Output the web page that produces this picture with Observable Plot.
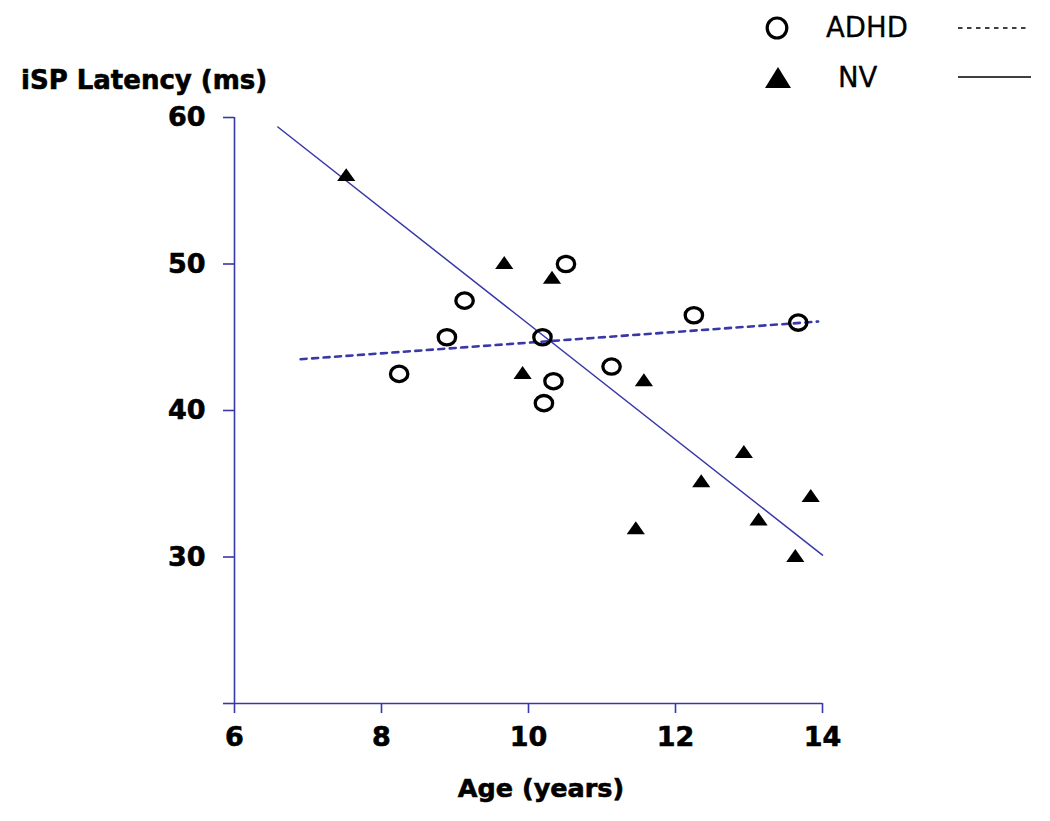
<!DOCTYPE html>
<html>
<head>
<meta charset="utf-8">
<script src="https://cdn.jsdelivr.net/npm/d3@7"></script>
<script src="https://cdn.jsdelivr.net/npm/@observablehq/plot@0.6"></script>
<style>
  html, body { margin: 0; padding: 0; background: #fff; }
  #wrap { position: relative; width: 1050px; height: 821px; overflow: hidden; }
  #chart, #overlay { position: absolute; left: 0; top: 0; }
</style>
</head>
<body>
<div id="wrap">
  <div id="chart"></div>
  <svg id="overlay" width="1050" height="821"></svg>
</div>
<script>
// ---- data ----
const groups = ["ADHD", "NV"];
const adhdAge     = [10.51, 9.13, 8.89, 10.19, 8.24, 10.34, 10.21, 11.13, 12.25, 13.67];
const adhdLatency = [50.0, 47.5, 45.0, 45.0, 42.5, 42.0, 40.5, 43.0, 46.5, 46.0];
const nvAge       = [7.52, 9.67, 10.32, 9.92, 11.57, 12.93, 12.35, 13.84, 11.46, 13.13, 13.63];
const nvLatency   = [56.1, 50.1, 49.1, 42.6, 42.1, 37.2, 35.2, 34.2, 32.0, 32.6, 30.1];
const adhdFitAge     = [6.90, 13.94];
const adhdFitLatency = [43.5, 46.07];
const nvFitAge       = [6.59, 14.0];
const nvFitLatency   = [59.35, 30.13];
const xTicks = [6, 8, 10, 12, 14];
const yTicks = [20, 30, 40, 50, 60];
const yTickLabels = ["", "30", "40", "50", "60"];
const xTitle = "Age (years)";
const yTitle = "iSP Latency (ms)";

// ---- tables ----
const adhd = adhdAge.map((a, i) => ({age: a, latency: adhdLatency[i]}));
const nv = nvAge.map((a, i) => ({age: a, latency: nvLatency[i]}));
const adhdFit = adhdFitAge.map((a, i) => ({age: a, latency: adhdFitLatency[i]}));
const nvFit = nvFitAge.map((a, i) => ({age: a, latency: nvFitLatency[i]}));

const blue = "#3838a8";
const boldFont = "'DejaVu Sans', sans-serif";

// slightly widened symbols, like the reference
const ellipseSym = {
  draw(ctx, size) {
    const r = Math.sqrt(size / Math.PI);
    const rx = r * 1.0, ry = r * 0.88, k = 0.5523;
    ctx.moveTo(rx, 0);
    ctx.bezierCurveTo(rx, ry * k, rx * k, ry, 0, ry);
    ctx.bezierCurveTo(-rx * k, ry, -rx, ry * k, -rx, 0);
    ctx.bezierCurveTo(-rx, -ry * k, -rx * k, -ry, 0, -ry);
    ctx.bezierCurveTo(rx * k, -ry, rx, -ry * k, rx, 0);
    ctx.closePath();
  }
};
const triSym = {
  draw(ctx, size) {
    const r = Math.sqrt(size / Math.PI);
    const hw = r * 1.3, h = r * 1.85;
    ctx.moveTo(0, -h / 2);
    ctx.lineTo(hw, h / 2);
    ctx.lineTo(-hw, h / 2);
    ctx.closePath();
  }
};

const chart = Plot.plot({
  width: 1050,
  height: 821,
  marginLeft: 234,
  marginRight: 228,
  marginTop: 117,
  marginBottom: 118,
  x: {domain: [6, 14]},
  y: {domain: [20, 60]},
  marks: [
    Plot.axisY({
      ticks: yTicks, tickSize: 11, tickPadding: 18,
      tickFormat: (d) => yTickLabels[yTicks.indexOf(d)],
      stroke: blue, strokeWidth: 1.6, fill: "#000",
      textStroke: "#000", textStrokeWidth: 0.6,
      fontSize: 27, fontWeight: "bold", fontFamily: boldFont,
      label: null
    }),
    Plot.axisX({
      ticks: xTicks, tickSize: 10, tickPadding: 13,
      stroke: blue, strokeWidth: 1.6, fill: "#000",
      textStroke: "#000", textStrokeWidth: 0.6,
      fontSize: 27, fontWeight: "bold", fontFamily: boldFont,
      label: null
    }),
    Plot.ruleY([20], {stroke: blue, strokeWidth: 1.6}),
    Plot.ruleX([6], {stroke: blue, strokeWidth: 1.6}),
    Plot.line(nvFit, {x: "age", y: "latency", stroke: blue, strokeWidth: 1.5}),
    Plot.line(adhdFit, {x: "age", y: "latency", stroke: blue, strokeWidth: 2.6, strokeDasharray: "6,5.5"}),
    Plot.dot(nv, {x: "age", y: "latency", symbol: triSym, r: 7, fill: "#000", stroke: "none"}),
    Plot.dot(adhd, {x: "age", y: "latency", symbol: ellipseSym, r: 8.7, fill: "none", stroke: "#000", strokeWidth: 3.3})
  ]
});
document.getElementById("chart").appendChild(chart);

// ---- titles and legend overlay ----
const ov = d3.select("#overlay");
ov.append("text").attr("x", 21).attr("y", 89)
  .attr("font-family", boldFont).attr("font-weight", "bold").attr("font-size", 26)
  .attr("stroke", "#000").attr("stroke-width", 0.6)
  .attr("fill", "#000").text(yTitle);
ov.append("text").attr("x", 541).attr("y", 797).attr("text-anchor", "middle")
  .attr("font-family", boldFont).attr("font-weight", "bold").attr("font-size", 25.5)
  .attr("stroke", "#000").attr("stroke-width", 0.6)
  .attr("fill", "#000").text(xTitle);

const lg = ov.append("g");
// ADHD row
lg.append("ellipse").attr("cx", 777).attr("cy", 28).attr("rx", 9.8).attr("ry", 10)
  .attr("fill", "none").attr("stroke", "#000").attr("stroke-width", 3.2);
lg.append("text").attr("x", 826).attr("y", 37)
  .attr("font-family", boldFont).attr("font-size", 27.5)
  .attr("stroke", "#000").attr("stroke-width", 0.3)
  .attr("fill", "#000").text(groups[0]);
lg.append("line").attr("x1", 958).attr("x2", 1026).attr("y1", 28).attr("y2", 28)
  .attr("stroke", "#000").attr("stroke-width", 1.5).attr("stroke-dasharray", "4.5,4.5");
// NV row
lg.append("path").attr("d", "M778,67 L791,88 L765,88 Z").attr("fill", "#000");
lg.append("text").attr("x", 838).attr("y", 87)
  .attr("font-family", boldFont).attr("font-size", 27.5)
  .attr("stroke", "#000").attr("stroke-width", 0.3)
  .attr("fill", "#000").text(groups[1]);
lg.append("line").attr("x1", 958).attr("x2", 1031).attr("y1", 77).attr("y2", 77)
  .attr("stroke", "#000").attr("stroke-width", 1.5);
</script>
</body>
</html>
